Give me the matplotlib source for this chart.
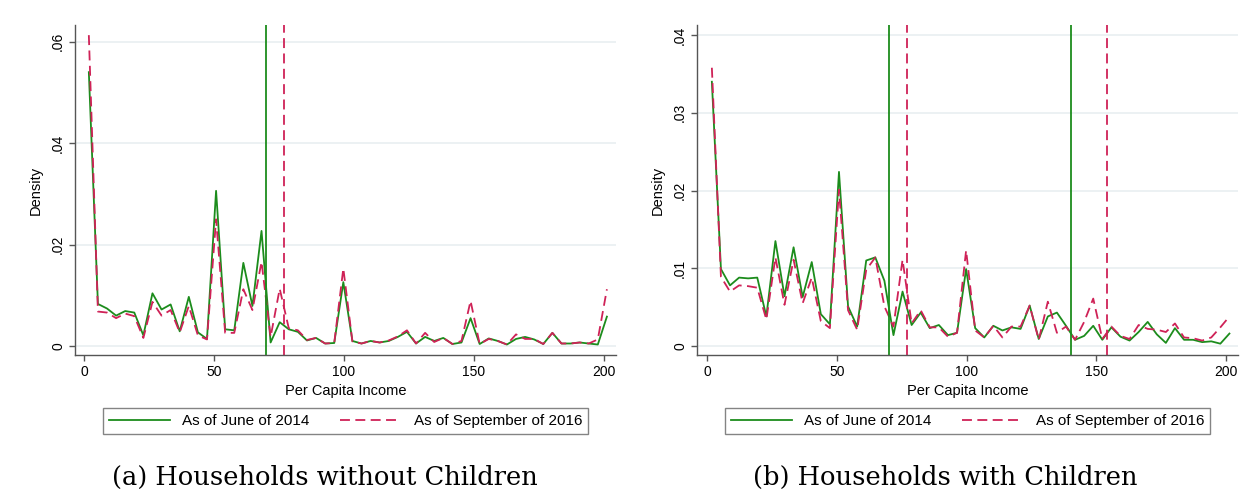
import numpy as np
import matplotlib.pyplot as plt

# bin midpoints of per capita income (bins of width 3.5)
income = [1.75, 5.25, 8.75, 12.25, 15.75, 19.25, 22.75, 26.25, 29.75, 33.25,
          36.75, 40.25, 43.75, 47.25, 50.75, 54.25, 57.75, 61.25, 64.75, 68.25,
          71.75, 75.25, 78.75, 82.25, 85.75, 89.25, 92.75, 96.25, 99.75, 103.25,
          106.75, 110.25, 113.75, 117.25, 120.75, 124.25, 127.75, 131.25, 134.75, 138.25,
          141.75, 145.25, 148.75, 152.25, 155.75, 159.25, 162.75, 166.25, 169.75, 173.25,
          176.75, 180.25, 183.75, 187.25, 190.75, 194.25, 197.75, 201.25]

# (a) households without children
nokids_2014 = [0.0540, 0.0083, 0.0074, 0.0060, 0.0069, 0.0066, 0.0021, 0.0104, 0.0072, 0.0082,
               0.0029, 0.0097, 0.0027, 0.0014, 0.0306, 0.0033, 0.0031, 0.0164, 0.0079, 0.0227,
               0.0007, 0.0047, 0.0033, 0.0028, 0.0011, 0.0016, 0.0005, 0.0006, 0.0126, 0.0010,
               0.0005, 0.0010, 0.0007, 0.0010, 0.0018, 0.0028, 0.0005, 0.0018, 0.0010, 0.0016,
               0.0004, 0.0007, 0.0055, 0.0004, 0.0015, 0.0010, 0.0003, 0.0014, 0.0018, 0.0013,
               0.0004, 0.0026, 0.0005, 0.0005, 0.0007, 0.0005, 0.0003, 0.0058]
nokids_2016 = [0.0613, 0.0068, 0.0066, 0.0055, 0.0064, 0.0059, 0.0016, 0.0087, 0.0060, 0.0071,
               0.0027, 0.0079, 0.0021, 0.0013, 0.0250, 0.0026, 0.0026, 0.0112, 0.0071, 0.0166,
               0.0018, 0.0113, 0.0035, 0.0031, 0.0012, 0.0016, 0.0005, 0.0006, 0.0153, 0.0009,
               0.0005, 0.0010, 0.0007, 0.0011, 0.0019, 0.0031, 0.0005, 0.0026, 0.0008, 0.0016,
               0.0004, 0.0010, 0.0089, 0.0004, 0.0014, 0.0010, 0.0003, 0.0023, 0.0014, 0.0014,
               0.0004, 0.0026, 0.0005, 0.0005, 0.0007, 0.0005, 0.0013, 0.0112]
nokids_lines_2014 = [70]
nokids_lines_2016 = [77]

# (b) households with children
kids_2014 = [0.0340, 0.0099, 0.0078, 0.0088, 0.0087, 0.0088, 0.0038, 0.0135, 0.0064, 0.0127,
             0.0063, 0.0108, 0.0041, 0.0028, 0.0224, 0.0051, 0.0025, 0.0110, 0.0114, 0.0084,
             0.0014, 0.0070, 0.0027, 0.0043, 0.0023, 0.0027, 0.0014, 0.0017, 0.0099, 0.0023,
             0.0011, 0.0026, 0.0020, 0.0024, 0.0022, 0.0052, 0.0009, 0.0038, 0.0043, 0.0026,
             0.0008, 0.0013, 0.0026, 0.0008, 0.0024, 0.0012, 0.0007, 0.0018, 0.0031, 0.0015,
             0.0004, 0.0023, 0.0008, 0.0008, 0.0005, 0.0006, 0.0003, 0.0016]
kids_2016 = [0.0358, 0.0089, 0.0070, 0.0078, 0.0077, 0.0075, 0.0034, 0.0114, 0.0053, 0.0111,
             0.0055, 0.0088, 0.0032, 0.0023, 0.0201, 0.0046, 0.0021, 0.0098, 0.0114, 0.0051,
             0.0025, 0.0111, 0.0029, 0.0046, 0.0024, 0.0024, 0.0012, 0.0017, 0.0123, 0.0020,
             0.0011, 0.0026, 0.0011, 0.0025, 0.0025, 0.0052, 0.0008, 0.0057, 0.0017, 0.0025,
             0.0008, 0.0031, 0.0061, 0.0009, 0.0025, 0.0013, 0.0009, 0.0027, 0.0022, 0.0021,
             0.0018, 0.0029, 0.0011, 0.0010, 0.0007, 0.0011, 0.0024, 0.0038]
kids_lines_2014 = [70, 140]
kids_lines_2016 = [77, 154]

xticks = [0, 50, 100, 150, 200]
yticks_a = [0, 0.02, 0.04, 0.06]
yticks_b = [0, 0.01, 0.02, 0.03, 0.04]

green = '#1c8c1c'
red = '#cf2257'
sans = ['Liberation Sans', 'DejaVu Sans']

fig = plt.figure(figsize=(12.49, 5.04), dpi=100)

panels = [
    (0.0600, nokids_2014, nokids_2016, nokids_lines_2014, nokids_lines_2016, yticks_a,
     (-3.6, 204.9), (-0.00177, 0.0633), '(a) Households without Children', 0.260),
    (0.5580, kids_2014, kids_2016, kids_lines_2014, kids_lines_2016, yticks_b,
     (-4.0, 204.7), (-0.00116, 0.0413), '(b) Households with Children', 0.757),
]

for left, y14, y16, l14, l16, yt, xl, yl, caption, cap_x in panels:
    ax = fig.add_axes([left, 0.2956, 0.4335, 0.6548])
    for sp in ['top', 'right']:
        ax.spines[sp].set_visible(False)
    for sp in ['left', 'bottom']:
        ax.spines[sp].set_color('#555555')
        ax.spines[sp].set_linewidth(1.0)
    ax.set_xlim(*xl)
    ax.set_ylim(*yl)
    ax.set_yticks(yt)
    ax.set_yticklabels(['0'] + [('%g' % v).lstrip('0') for v in yt[1:]],
                       rotation=90, va='center', family=sans, fontsize=10)
    ax.set_xticks(xticks)
    ax.set_xticklabels([str(v) for v in xticks], family=sans, fontsize=10)
    ax.tick_params(direction='out', length=4, color='#555555', width=1.0, pad=3)
    ax.grid(axis='y', color='#eaf0f2', lw=1.3)
    ax.set_axisbelow(True)

    ax.plot(income, y14, color=green, lw=1.3, label='As of June of 2014')
    ax.plot(income, y16, color=red, lw=1.3, dashes=(5.5, 3),
            label='As of September of 2016')
    for v in l14:
        ax.axvline(v, color=green, lw=1.3)
    for v in l16:
        ax.axvline(v, color=red, lw=1.3, dashes=(5.5, 3))

    ax.set_xlabel('Per Capita Income', family=sans, fontsize=10.5, labelpad=4)
    ax.set_ylabel('Density', family=sans, fontsize=10.5, labelpad=6)

    leg = ax.legend(loc='center', bbox_to_anchor=(left + 0.4335 / 2 + 0.0, 1 - 421 / 504),
                    bbox_transform=fig.transFigure, ncol=2, frameon=True, fancybox=False,
                    prop={'family': sans, 'size': 11}, handlelength=4.0,
                    handletextpad=0.8, columnspacing=2.0, borderpad=0.4,
                    borderaxespad=0)
    leg.get_frame().set_edgecolor('#666666')
    leg.get_frame().set_linewidth(1.0)

    fig.text(cap_x, 1 - 477 / 504, caption, ha='center', va='center',
             family=['DejaVu Serif'], fontsize=18.5)

plt.savefig('out.png', dpi=100)
